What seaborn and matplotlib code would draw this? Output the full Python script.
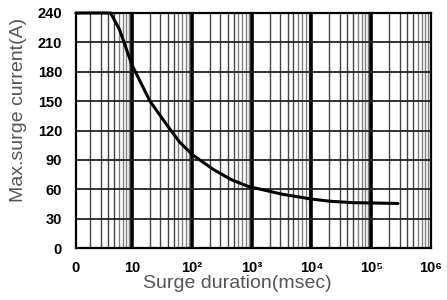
import numpy as np
import pandas as pd
import matplotlib
matplotlib.use("Agg")
import matplotlib.pyplot as plt
import seaborn as sns

# Data
duration_ms = [1.16, 4.4, 6.2, 10, 20, 38, 63, 100, 122, 233, 450, 870,
               3200, 10000, 20000, 49000, 280000]
surge_current = [240, 240, 223, 187, 150, 126, 108, 96, 92, 80, 70, 63,
                 55, 50, 47.8, 46.3, 45.5]
y_ticks = [0, 30, 60, 90, 120, 150, 180, 210, 240]
x_ticks = [1.16, 10, 100, 1000, 10000, 100000, 1000000]
x_tick_labels = ["0", "10", "10\u00b2", "10\u00b3", "10\u2074", "10\u2075", "10\u2076"]

sns.set_style("white")
plt.rcParams["font.family"] = ["Liberation Sans", "DejaVu Sans"]

df = pd.DataFrame({"duration": duration_ms, "current": surge_current})

fig = plt.figure(figsize=(4.47, 3.0), dpi=100)
ax = fig.add_axes([76 / 447, 52 / 300, 355 / 447, 235 / 300])

ax.set_xscale("log")
ax.set_xlim(x_ticks[0], x_ticks[-1])
ax.set_ylim(y_ticks[0], y_ticks[-1])

# grid: minor vertical lines
for dec in range(6):
    base = 10 ** dec
    for m in range(2, 10):
        col = "#444444" if m <= 5 else "#808080"
        ax.axvline(base * m, color=col, lw=1.0, zorder=1)
for t in x_ticks[1:-1]:
    ax.axvline(t, color="black", lw=2.6, zorder=2)
for yv in y_ticks[1:-1]:
    ax.axhline(yv, color="#222222", lw=1.3, zorder=2)

sns.lineplot(data=df, x="duration", y="current", ax=ax, color="black",
             lw=2.2, zorder=7, clip_on=False)

ax.set_xticks(x_ticks)
ax.set_xticklabels(x_tick_labels)
ax.set_yticks(y_ticks)
ax.minorticks_off()
ax.tick_params(axis="both", length=0, labelsize=10.5, colors="black")
ax.tick_params(axis="x", pad=9)
ax.tick_params(axis="y", pad=10)
for lab in ax.get_xticklabels() + ax.get_yticklabels():
    lab.set_fontweight("bold")

ax.set_xlabel("")
ax.set_ylabel("")
for s in ax.spines.values():
    s.set_visible(True)
    s.set_color("black")
    s.set_linewidth(1.6)
    s.set_zorder(6)

fig.text(237 / 447, 1 - 283 / 300, "Surge duration(msec)", ha="center", va="center",
         fontsize=14, color="#555555")
fig.text(19 / 447, 1 - 110 / 300, "Max.surge current(A)", ha="center", va="center",
         rotation=90, fontsize=14, color="#555555")

fig.savefig("out.png", dpi=100)
